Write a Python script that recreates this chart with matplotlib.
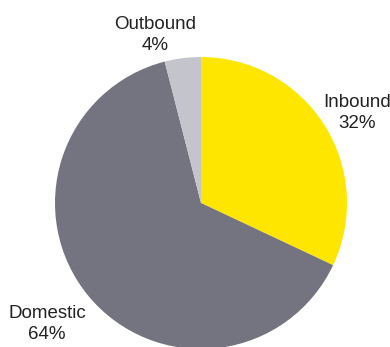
import matplotlib.pyplot as plt

labels = ['Inbound', 'Domestic', 'Outbound']
shares = [32, 64, 4]
colors = ['#FFE600', '#747480', '#C4C4CD']

plt.rcParams['font.family'] = ['Liberation Sans', 'DejaVu Sans']

fig = plt.figure(figsize=(3.9, 3.47), dpi=100)
ax = fig.add_axes([0, 0, 1, 1])

ax.pie(shares, colors=colors, startangle=90, counterclock=False,
       center=(201, 144), radius=146, frame=True,
       wedgeprops={'linewidth': 0})
ax.set_xlim(0, 390)
ax.set_ylim(0, 347)
ax.set_aspect('equal')
ax.axis('off')

# label positions (pixel coords, y up)
label_pos = [(357, 234), (47, 23), (155, 312)]
for name, val, (x, y) in zip(labels, shares, label_pos):
    ax.text(x, y, f'{name}\n{val}%', ha='center', va='center',
            fontsize=13.5, color='#222222', linespacing=1.33)

fig.savefig('out.png', dpi=100)
